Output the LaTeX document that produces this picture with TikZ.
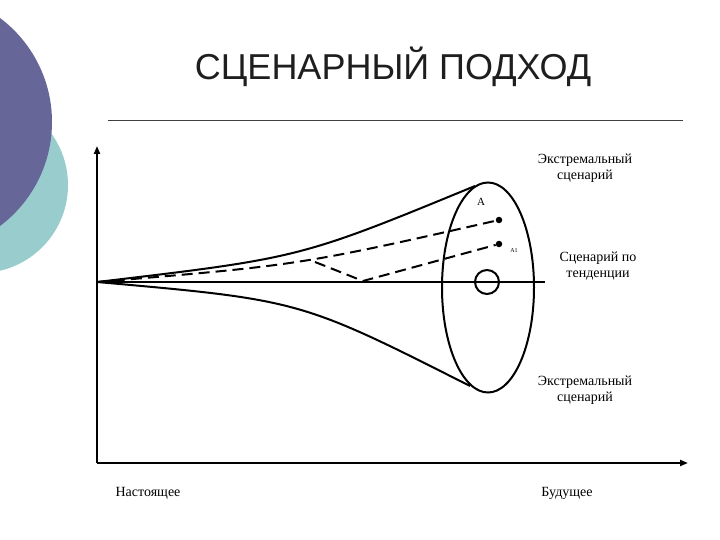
\documentclass[tikz,border=0pt]{standalone}
\usepackage{fontspec}
\setmainfont{Liberation Serif}
\newfontfamily\titlefont{Liberation Sans}
\usetikzlibrary{arrows.meta}
\definecolor{purp}{RGB}{102,102,153}
\definecolor{teal2}{RGB}{153,204,204}
\definecolor{titlec}{RGB}{30,30,30}
\tikzset{
  curve/.style={line width=2pt},
  dashcurve/.style={line width=2pt, dash pattern=on 11pt off 6pt},
  axis/.style={line width=2pt, -{Triangle[length=8pt,width=6pt]}},
  lbl/.style={font=\fontsize{14}{16}\selectfont, align=center, inner sep=0pt},
  dotmark/.style={circle, fill=black, inner sep=0pt, minimum size=6.5pt}
}
\begin{document}
\begin{tikzpicture}[x=1pt,y=-1pt]
\useasboundingbox (0,0) rectangle (720,540);
% decorative circles
\fill[teal2] (-20,185) circle (88);
\fill[purp] (-78,122) circle (130);
% title
\node[font=\titlefont\fontsize{36}{40}\selectfont, text=titlec] (title) at (393,67) {СЦЕНАРНЫЙ ПОДХОД};
\draw[line width=0.7pt, black!75] (108,120) -- (683,120);
% axes
\coordinate (ax0) at (97,463);
\coordinate (axY) at (97,146);
\coordinate (axX) at (688,463);
\draw[axis] (ax0) -- (axY);
\draw[axis] (ax0) -- (axX);
% fan
\coordinate (O) at (97,282);
\coordinate (Up) at (475,186);
\coordinate (Lo) at (470,386);
\coordinate (Hend) at (545,282);
\draw[curve] (O) -- (Hend);
\draw[curve] (O) .. controls (300,258) .. (Up);
\draw[curve] (O) .. controls (300,300) .. (Lo);
\draw[curve] (488,287.5) ellipse [x radius=46, y radius=105];
\node[draw, circle, line width=2pt, minimum size=24pt, inner sep=0pt] (small) at (487,282) {};
% dashed scenarios
\node[dotmark] (A) at (499,220) {};
\node[dotmark] (A1) at (499,244) {};
\coordinate (br) at (315,262);
\coordinate (dip) at (363,281);
\draw[dashcurve] (O) .. controls (300,265) .. (A);
\draw[dashcurve] (br) -- (dip) -- (A1);
\node[font=\fontsize{11}{12}\selectfont] (lA) at (481,202) {A};
\node[font=\fontsize{6}{7}\selectfont] (lA1) at (514,251) {A1};
% labels
\node[lbl] (ext1) at (585,168) {Экстремальный\\сценарий};
\node[lbl] (trend) at (598,266) {Сценарий по\\тенденции};
\node[lbl] (ext2) at (585,390) {Экстремальный\\сценарий};
\node[lbl] (now) at (148,493) {Настоящее};
\node[lbl] (fut) at (567,493) {Будущее};
\end{tikzpicture}
\end{document}
